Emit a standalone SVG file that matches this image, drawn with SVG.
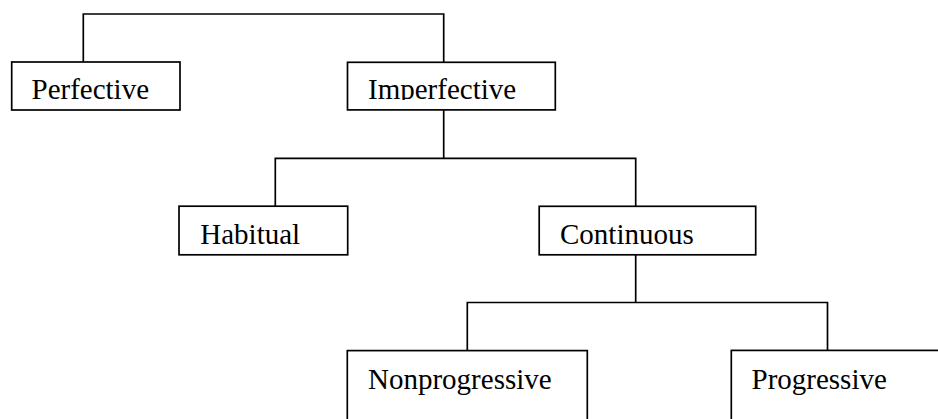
<svg xmlns="http://www.w3.org/2000/svg" width="938" height="419" viewBox="0 0 938 419">
<style>
.box{fill:#fff;stroke:#000;stroke-width:1.7}
.lbl{font-family:"Liberation Serif","Times New Roman",serif;font-size:29px;fill:#000}
.conn{fill:none;stroke:#000;stroke-width:1.7}
</style>
<defs>
<clipPath id="clipImp"><rect x="348" y="63" width="207" height="37"/></clipPath>
</defs>
<rect width="938" height="419" fill="#fff"/>
<g id="connectors">
<polyline class="conn" points="83.3,62 83.3,14 443.7,14 443.7,62"/>
<line class="conn" x1="443.7" y1="110" x2="443.7" y2="158.3"/>
<polyline class="conn" points="275.3,206 275.3,158.3 635.7,158.3 635.7,206"/>
<line class="conn" x1="635.7" y1="255" x2="635.7" y2="302.5"/>
<polyline class="conn" points="467.3,350.5 467.3,302.5 827.5,302.5 827.5,350.5"/>
</g>
<g id="perfective">
<rect class="box" x="11.7" y="62" width="168.3" height="48"/>
<text class="lbl" x="31.5" y="99">Perfective</text>
</g>
<g id="imperfective">
<rect class="box" x="347.5" y="62.3" width="207.8" height="47.6"/>
<text class="lbl" x="368" y="99" clip-path="url(#clipImp)">Imperfective</text>
</g>
<g id="habitual">
<rect class="box" x="179" y="206.2" width="168.7" height="48.6"/>
<text class="lbl" x="200.3" y="244">Habitual</text>
</g>
<g id="continuous">
<rect class="box" x="539.2" y="206.3" width="216.5" height="48.5"/>
<text class="lbl" x="560" y="244">Continuous</text>
</g>
<g id="nonprogressive">
<rect class="box" x="347.3" y="350.6" width="240" height="90"/>
<text class="lbl" x="368" y="389">Nonprogressive</text>
</g>
<g id="progressive">
<rect class="box" x="731.3" y="350.4" width="240" height="90"/>
<text class="lbl" x="751.5" y="388.5">Progressive</text>
</g>
</svg>
